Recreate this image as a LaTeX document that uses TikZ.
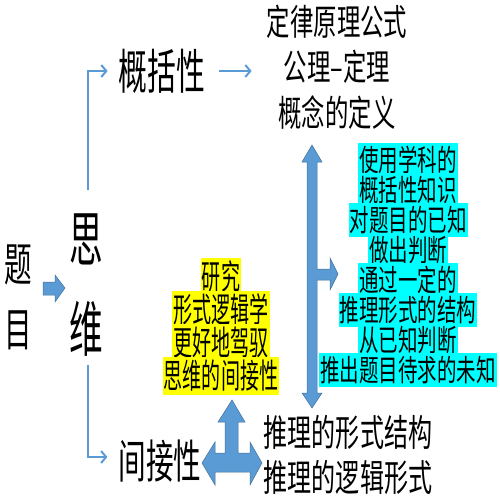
\documentclass[tikz,border=0pt]{standalone}
\usepackage{fontspec}
\newfontfamily\cjknarrow[FakeStretch=0.56]{Noto Sans CJK SC}
\newfontfamily\cjkmid[FakeStretch=0.6]{Noto Sans CJK SC}
\newfontfamily\cjkwide[FakeStretch=0.65]{Noto Sans CJK SC}
\newcommand\cjksize[2]{\fontsize{#1}{#2}\selectfont}
\usetikzlibrary{arrows.meta}
\definecolor{arrowblue}{HTML}{5B9BD5}
\definecolor{arrowedge}{HTML}{41719C}
\definecolor{hlcyan}{HTML}{00FFFF}
\definecolor{hlyellow}{HTML}{FFFF00}

\begin{document}
\begin{tikzpicture}[x=1pt,y=-1pt,
    thinarrow/.style={draw=arrowblue, line width=2pt, -{Straight Barb[length=5pt,width=12pt]}},
    blockarrow/.style={fill=arrowblue, draw=arrowedge, line width=0.5pt},
    cyanline/.style={fill=hlcyan, minimum height=30pt, inner xsep=1pt, font=\cjkwide\cjksize{30}{30}},
    yellowline/.style={fill=hlyellow, minimum height=33pt, inner xsep=1pt, font=\cjknarrow\cjksize{34}{33}}]

  \useasboundingbox (0,0) rectangle (500,500);

  \begin{scope}[every node/.style={align=center, inner sep=0pt}]
    \node[font=\cjkmid\cjksize{46}{65}]    (ti)     at (18,297)  {题\\目};
    \node[font=\cjknarrow\cjksize{60}{90}] (siwei)  at (86,285)  {思\\维};
    \node[font=\cjkmid\cjksize{48}{48}]    (gaikuo) at (162,71)  {概括性};
    \node[font=\cjkwide\cjksize{36}{45.5}] (defs)   at (337,67)  {定律原理公式\\公理–定理\\概念的定义};
    \node[font=\cjkmid\cjksize{46}{46}]    (jianjie) at (160,461) {间接性};
    \node[font=\cjkwide\cjksize{37}{45}]   (tuili)  at (348,455) {推理的形式结构\\推理的逻辑形式};
  \end{scope}

  % cyan lines
  \begin{scope}[every node/.style={cyanline}]
    \node (c1) at (408,160) {使用学科的};
    \node (c2) at (408,190) {概括性知识};
    \node (c3) at (408,220) {对题目的已知};
    \node (c4) at (408,250) {做出判断};
    \node (c5) at (408,280) {通过一定的};
    \node (c6) at (408,310) {推理形式的结构};
    \node (c7) at (408,340) {从已知判断};
    \node (c8) at (408,370) {推出题目待求的未知};
  \end{scope}

  % yellow lines
  \begin{scope}[every node/.style={yellowline}]
    \node (y1) at (221,277) {研究};
    \node (y2) at (221,310) {形式逻辑学};
    \node (y3) at (221,343) {更好地驾驭};
    \node (y4) at (221,376) {思维的间接性};
  \end{scope}

  % thin arrows
  \coordinate (upstart)   at (88,190);
  \coordinate (downstart) at (88,365);
  \draw[thinarrow] (upstart) |- ([xshift=-11pt]gaikuo.west);
  \draw[thinarrow] (downstart) |- ([xshift=-11pt,yshift=4pt]jianjie.west);
  \draw[thinarrow] ([xshift=14pt]gaikuo.east) -- ([xshift=-15pt]gaikuo.east -| defs.west);

  % block arrows
  \begin{scope}[blockarrow]
    \filldraw (43,282) -- (55,282) -- (55,275) -- (65,288) -- (55,302) -- (55,295) -- (43,295) -- cycle;
    \filldraw (312,145) -- (322,162) -- (317,162) -- (317,269) -- (330,269) -- (330,258)
      -- (338,274) -- (330,290) -- (330,280) -- (317,280) -- (317,393) -- (322,393)
      -- (312,408) -- (302,393) -- (307,393) -- (307,162) -- (302,162) -- cycle;
    \filldraw (232,400) -- (245,422) -- (238,422) -- (238,453) -- (250,453) -- (250,442)
      -- (262,463) -- (250,485) -- (250,472) -- (215,472) -- (215,485) -- (202,463)
      -- (215,442) -- (215,453) -- (225,453) -- (225,422) -- (218,422) -- cycle;
  \end{scope}

\end{tikzpicture}
\end{document}
